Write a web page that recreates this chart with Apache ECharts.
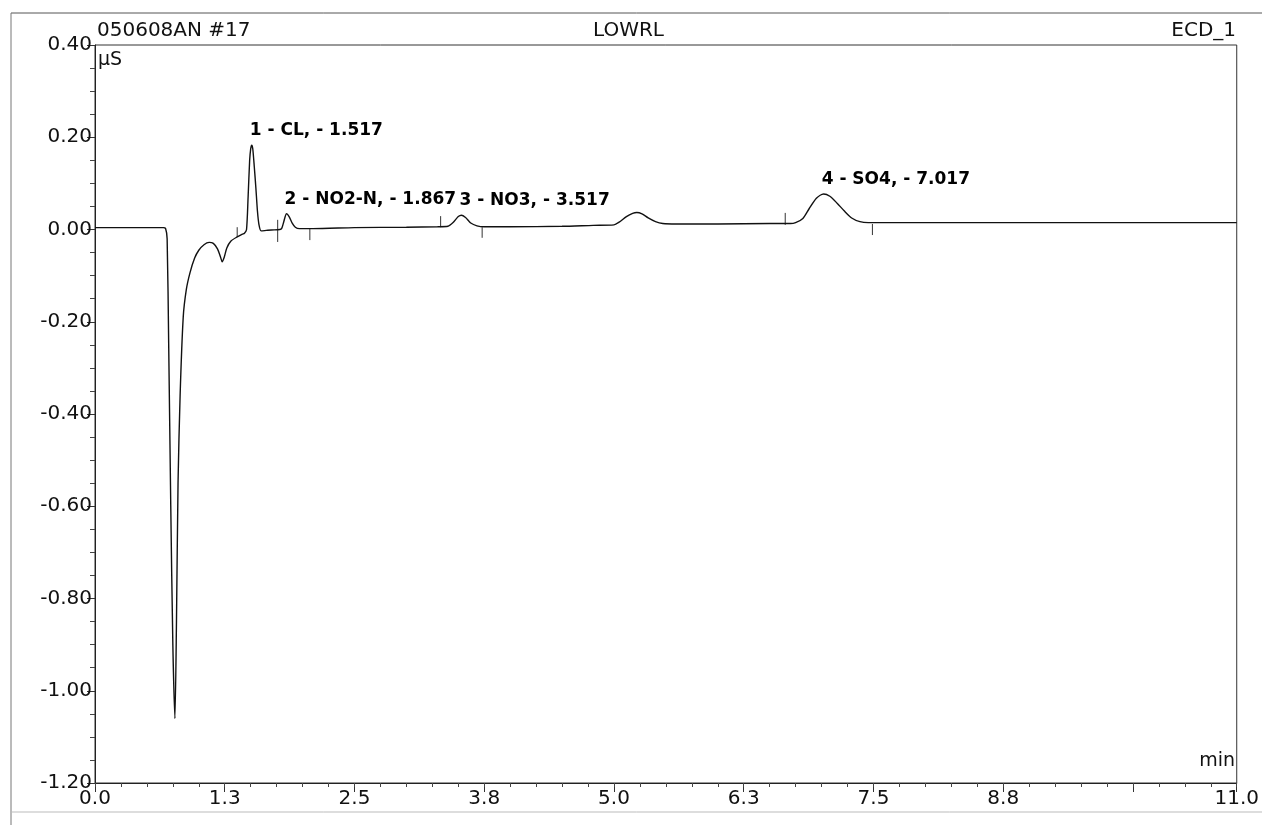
<!DOCTYPE html>
<html>
<head>
<meta charset="utf-8">
<title>050608AN #17 - LOWRL</title>
<script src="https://cdn.jsdelivr.net/npm/echarts@6/dist/echarts.min.js"></script>
<style>
  html, body { margin: 0; padding: 0; background: #fff; }
  #chart { width: 1262px; height: 825px; }
</style>
</head>
<body>
<div id="chart"></div>
<script>
    // retention time (min) and conductivity (µS)
    var times = [0.00, 0.30, 0.60, 0.66, 0.68, 0.695, 0.71, 0.73, 0.75, 0.77, 0.785, 0.80, 0.82, 0.85, 0.88,
        0.915, 0.96, 1.00, 1.05, 1.10, 1.14, 1.18, 1.21, 1.225, 1.245, 1.27, 1.31, 1.37, 1.42, 1.44, 1.46,
        1.475, 1.49, 1.50, 1.51, 1.52, 1.535, 1.55, 1.565, 1.58, 1.60, 1.65, 1.70, 1.78, 1.80, 1.82, 1.845,
        1.87, 1.90, 1.93, 1.97, 2.10, 2.50, 3.00, 3.30, 3.40, 3.45, 3.50, 3.53, 3.57, 3.62, 3.68, 3.75,
        4.00, 4.50, 4.80, 5.00, 5.05, 5.12, 5.18, 5.22, 5.27, 5.33, 5.40, 5.47, 5.60, 6.00, 6.50, 6.70,
        6.75, 6.82, 6.88, 6.95, 7.02, 7.08, 7.15, 7.22, 7.29, 7.37, 7.45, 8.00, 9.00, 10.00, 11.00];
    var signal = [0.004, 0.004, 0.004, 0.004, 0.002, -0.02, -0.25, -0.60, -0.90, -1.06, -0.85, -0.55, -0.36, -0.19, -0.13,
        -0.094, -0.062, -0.045, -0.033, -0.028, -0.030, -0.042, -0.060, -0.070, -0.060, -0.040, -0.025, -0.016, -0.010, -0.008, 0.000,
        0.07, 0.15, 0.175, 0.183, 0.175, 0.135, 0.09, 0.04, 0.010, -0.003, -0.002, -0.001, 0.000, 0.003, 0.018, 0.034,
        0.028, 0.014, 0.005, 0.002, 0.002, 0.004, 0.005, 0.006, 0.007, 0.015, 0.028, 0.031, 0.026, 0.014, 0.008, 0.006,
        0.006, 0.007, 0.009, 0.010, 0.016, 0.028, 0.035, 0.037, 0.034, 0.025, 0.017, 0.013, 0.012, 0.012, 0.013, 0.013,
        0.015, 0.024, 0.045, 0.068, 0.077, 0.072, 0.057, 0.040, 0.025, 0.017, 0.015, 0.015, 0.015, 0.015, 0.015];

    // identified peaks
    var peakLabels = ['1 - CL, - 1.517', '2 - NO2-N, - 1.867', '3 - NO3, - 3.517', '4 - SO4, - 7.017'];
    var peakTimes = [1.51, 1.845, 3.53, 7.02];
    var peakHeights = [0.183, 0.034, 0.031, 0.077];

    // integration delimiters: time, from, to
    var delimTimes = [1.37, 1.76, 2.07, 3.33, 3.73, 6.65, 7.49];
    var delimFrom = [-0.016, -0.027, -0.023, 0.005, -0.018, 0.010, -0.012];
    var delimTo = [0.005, 0.021, 0.001, 0.029, 0.005, 0.036, 0.012];

    // axis tick labels (10.0 is left blank on the print)
    var xTickLabels = {0: '0.0', 1.25: '1.3', 2.5: '2.5', 3.75: '3.8', 5: '5.0', 6.25: '6.3', 7.5: '7.5', 8.75: '8.8', 10: '', 11: '11.0'};
    var yTickLabels = {0.4: '0.40', 0.2: '0.20', 0: '0.00', '-0.2': '-0.20', '-0.4': '-0.40', '-0.6': '-0.60', '-0.8': '-0.80', '-1': '-1.00', '-1.2': '-1.20'};

    var trace = times.map(function (t, i) { return [t, signal[i]]; });
    var peaks = peakTimes.map(function (t, i) { return [t, peakHeights[i], peakLabels[i]]; });
    var delims = delimTimes.map(function (t, i) { return [t, delimFrom[i], delimTo[i]]; });

    var font = 'DejaVu Sans';
    var ink = '#111';

    var myChart = echarts.init(document.getElementById('chart'));
    var option = {
        backgroundColor: '#fff',
        animation: false,
        textStyle: { fontFamily: font, color: ink },
        grid: {
            left: 95, right: 25, top: 45, bottom: 42,
            show: true, borderColor: '#333', borderWidth: 1
        },
        graphic: [
            // outer frame of the print
            { type: 'line', shape: { x1: 11, y1: 13, x2: 1262, y2: 13 }, style: { stroke: '#555', lineWidth: 1 } },
            { type: 'line', shape: { x1: 11, y1: 13, x2: 11, y2: 825 }, style: { stroke: '#777', lineWidth: 1 } },
            { type: 'line', shape: { x1: 11, y1: 812, x2: 1262, y2: 812 }, style: { stroke: '#bbb', lineWidth: 1 } },
            // header
            { type: 'text', left: 97, top: 21, style: { text: '050608AN #17', font: '20px ' + font, fill: ink } },
            { type: 'text', left: 593, top: 21, style: { text: 'LOWRL', font: '20px ' + font, fill: ink } },
            { type: 'text', right: 26, top: 21, style: { text: 'ECD_1', font: '20px ' + font, fill: ink } },
            // units
            { type: 'text', left: 98, top: 51, style: { text: 'µS', font: '19px ' + font, fill: ink } },
            { type: 'text', right: 27, top: 752, style: { text: 'min', font: '19px ' + font, fill: ink } }
        ],
        xAxis: [
            {
                type: 'value',
                min: 0, max: 11, interval: 1.25,
                axisLine: { show: true, onZero: false, lineStyle: { color: '#222', width: 1 } },
                axisTick: { show: true, inside: false, length: 9, lineStyle: { color: '#333' } },
                splitLine: { show: false },
                axisLabel: {
                    fontSize: 20, color: ink, margin: 6,
                    formatter: function (v) { return xTickLabels[v] !== undefined ? xTickLabels[v] : v.toFixed(1); }
                }
            },
            {
                // fine 0.25 min ticks, all the way to 11.0
                type: 'value',
                position: 'bottom',
                min: 0, max: 11, interval: 0.25,
                axisLine: { show: false, onZero: false },
                axisTick: { show: true, inside: false, length: 4, lineStyle: { color: '#444' } },
                axisLabel: { show: false },
                splitLine: { show: false }
            }
        ],
        yAxis: {
            type: 'value',
            min: -1.2, max: 0.4, interval: 0.2,
            axisLine: { show: true, onZero: false, lineStyle: { color: '#222', width: 1 } },
            axisTick: { show: true, inside: false, length: 8, lineStyle: { color: '#333' } },
            minorTick: { show: true, splitNumber: 4, length: 5, lineStyle: { color: '#444' } },
            splitLine: { show: false },
            axisLabel: {
                fontSize: 20, color: ink, margin: 3,
                formatter: function (v) {
                    var k = String(Math.round(v * 10) / 10);
                    return yTickLabels[k] !== undefined ? yTickLabels[k] : v.toFixed(2);
                }
            }
        },
        series: [
            {
                name: 'ECD_1',
                type: 'line',
                data: trace,
                showSymbol: false,
                smooth: 0.25,
                lineStyle: { color: '#111', width: 1.4 },
                z: 3
            },
            {
                name: 'delimiters',
                type: 'custom',
                data: delims,
                renderItem: function (params, api) {
                    var p1 = api.coord([api.value(0), api.value(1)]);
                    var p2 = api.coord([api.value(0), api.value(2)]);
                    return {
                        type: 'line',
                        shape: { x1: p1[0], y1: p1[1], x2: p2[0], y2: p2[1] },
                        style: { stroke: '#333', lineWidth: 1 }
                    };
                },
                z: 2
            },
            {
                name: 'peaks',
                type: 'scatter',
                data: peaks,
                symbolSize: 0,
                itemStyle: { opacity: 1 },
                label: {
                    show: true,
                    position: [-2, -6],
                    align: 'left',
                    verticalAlign: 'bottom',
                    fontFamily: font,
                    fontSize: 17,
                    fontWeight: 'bold',
                    color: '#000',
                    formatter: function (p) { return p.data[2]; }
                },
                z: 4
            }
        ]
    };
    myChart.setOption(option);
</script>
</body>
</html>
